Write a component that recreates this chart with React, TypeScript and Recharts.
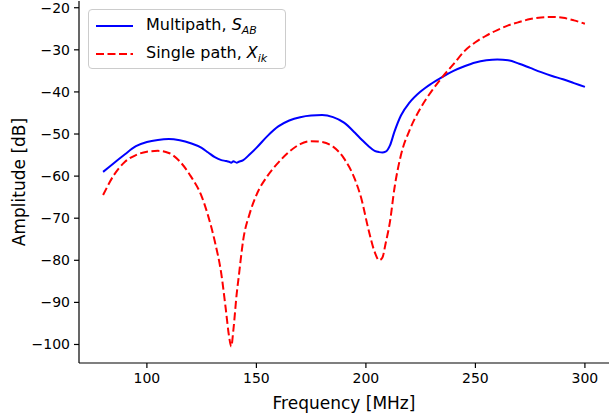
import { LineChart, Line, XAxis, YAxis } from 'recharts'

const freqs = [80, 85, 90, 95, 100, 105, 110, 115, 120, 125, 128, 131, 134, 136, 137.5, 138.5, 139.5, 141, 142, 144, 147, 150, 155, 160, 165, 170, 175, 180, 185, 190, 195, 198, 201, 204, 206, 207.5, 209, 211, 213, 216, 220, 225, 230, 235, 240, 245, 250, 255, 260, 265, 270, 275, 280, 285, 290, 295, 300]

const multipath = [-59.0, -56.9, -54.8, -52.9, -51.9, -51.4, -51.2, -51.5, -52.2, -53.3, -54.4, -55.5, -56.2, -56.4, -56.6, -56.8, -56.5, -56.8, -56.6, -56.2, -54.8, -53.3, -50.5, -48.2, -46.8, -46.0, -45.6, -45.5, -46.0, -47.3, -49.7, -51.3, -52.8, -54.0, -54.3, -54.4, -54.2, -52.7, -49.5, -45.6, -42.5, -39.9, -38.0, -36.4, -35.0, -33.9, -33.0, -32.5, -32.3, -32.5, -33.3, -34.3, -35.3, -36.2, -37.0, -37.9, -38.8]

const singlePath = [-64.5, -59.7, -56.6, -55.0, -54.2, -54.0, -54.5, -56.5, -60.0, -64.8, -69.5, -75.5, -83.3, -91.5, -98.0, -100.5, -96.5, -88.0, -83.6, -75.1, -68.8, -64.5, -60.0, -56.8, -54.2, -52.4, -51.7, -51.9, -53.0, -55.8, -60.8, -65.5, -72.3, -78.0, -80.0, -79.4, -76.0, -70.8, -63.0, -55.0, -49.0, -43.8, -39.8, -36.4, -33.4, -30.3, -28.2, -26.6, -25.3, -24.2, -23.4, -22.7, -22.3, -22.2, -22.4, -23.0, -23.8]

const xTicks = [100, 150, 200, 250, 300]
const yTicks = [-100, -90, -80, -70, -60, -50, -40, -30, -20]

const data = freqs.map((f, i) => ({ f, multi: multipath[i], single: singlePath[i] }))

const FONT = '"DejaVu Sans", sans-serif'
const minus = (v: number) => String(v).replace('-', '\u2212')

// legend drawn over the plot, top-left like matplotlib's "best"
function LegendBox() {
  return (
    <div
      style={{
        position: 'absolute',
        left: 88,
        top: 9,
        width: 196,
        height: 58,
        border: '1px solid #cccccc',
        borderRadius: 4,
        background: 'rgba(255,255,255,0.8)',
        fontFamily: FONT,
        fontSize: 16,
        color: '#000',
      }}
    >
      <svg width={50} height={58} style={{ position: 'absolute', left: 0, top: 0 }}>
        <line x1={7} x2={44} y1={16} y2={16} stroke="#0000ff" strokeWidth={2} />
        <line x1={7} x2={44} y1={44} y2={44} stroke="#ff0000" strokeWidth={2} strokeDasharray="8 3.5" />
      </svg>
      <div style={{ position: 'absolute', left: 57, top: 5, whiteSpace: 'nowrap' }}>
        Multipath, <i>S</i><sub style={{ fontSize: 11 }}><i>AB</i></sub>
      </div>
      <div style={{ position: 'absolute', left: 57, top: 33, whiteSpace: 'nowrap' }}>
        Single path, <i>X</i><sub style={{ fontSize: 11 }}><i>ik</i></sub>
      </div>
    </div>
  )
}

export default function App() {
  return (
    <div style={{ width: 609, height: 419, background: '#fff', position: 'relative' }}>
      <style>{`body{margin:0}`}</style>
      <LineChart
        width={609}
        height={419}
        data={data}
        margin={{ top: 1, right: 0, bottom: 0, left: 0 }}
        style={{ fontFamily: FONT }}
      >
        <XAxis
          dataKey="f"
          type="number"
          domain={[69, 311]}
          ticks={xTicks}
          height={56}
          tickSize={5}
          tickMargin={5}
          axisLine={{ stroke: '#000', strokeWidth: 1.2 }}
          tickLine={{ stroke: '#000', strokeWidth: 1.2 }}
          tick={{ fill: '#000', fontSize: 14 }}
          label={{ value: 'Frequency [MHz]', position: 'insideBottom', offset: 10, fill: '#000', fontSize: 17 }}
        />
        <XAxis
          xAxisId="top"
          orientation="top"
          dataKey="f"
          type="number"
          domain={[69, 311]}
          height={0}
          tick={false}
          tickLine={false}
          axisLine={{ stroke: '#000', strokeWidth: 1.2 }}
        />
        <YAxis
          type="number"
          domain={[-104.4, -18.4]}
          ticks={yTicks}
          width={79}
          tickSize={5}
          tickMargin={4}
          tickFormatter={minus}
          axisLine={{ stroke: '#000', strokeWidth: 1.2 }}
          tickLine={{ stroke: '#000', strokeWidth: 1.2 }}
          tick={{ fill: '#000', fontSize: 14 }}
          label={{ value: 'Amplitude [dB]', angle: -90, position: 'insideLeft', offset: 19, fill: '#000', fontSize: 17, style: { textAnchor: 'middle' } }}
        />
        <Line type="monotone" dataKey="multi" stroke="#0000ff" strokeWidth={2} dot={false} isAnimationActive={false} />
        <Line type="monotone" dataKey="single" stroke="#ff0000" strokeWidth={2} strokeDasharray="8 3.5" dot={false} isAnimationActive={false} />
      </LineChart>
      <LegendBox />
    </div>
  )
}
